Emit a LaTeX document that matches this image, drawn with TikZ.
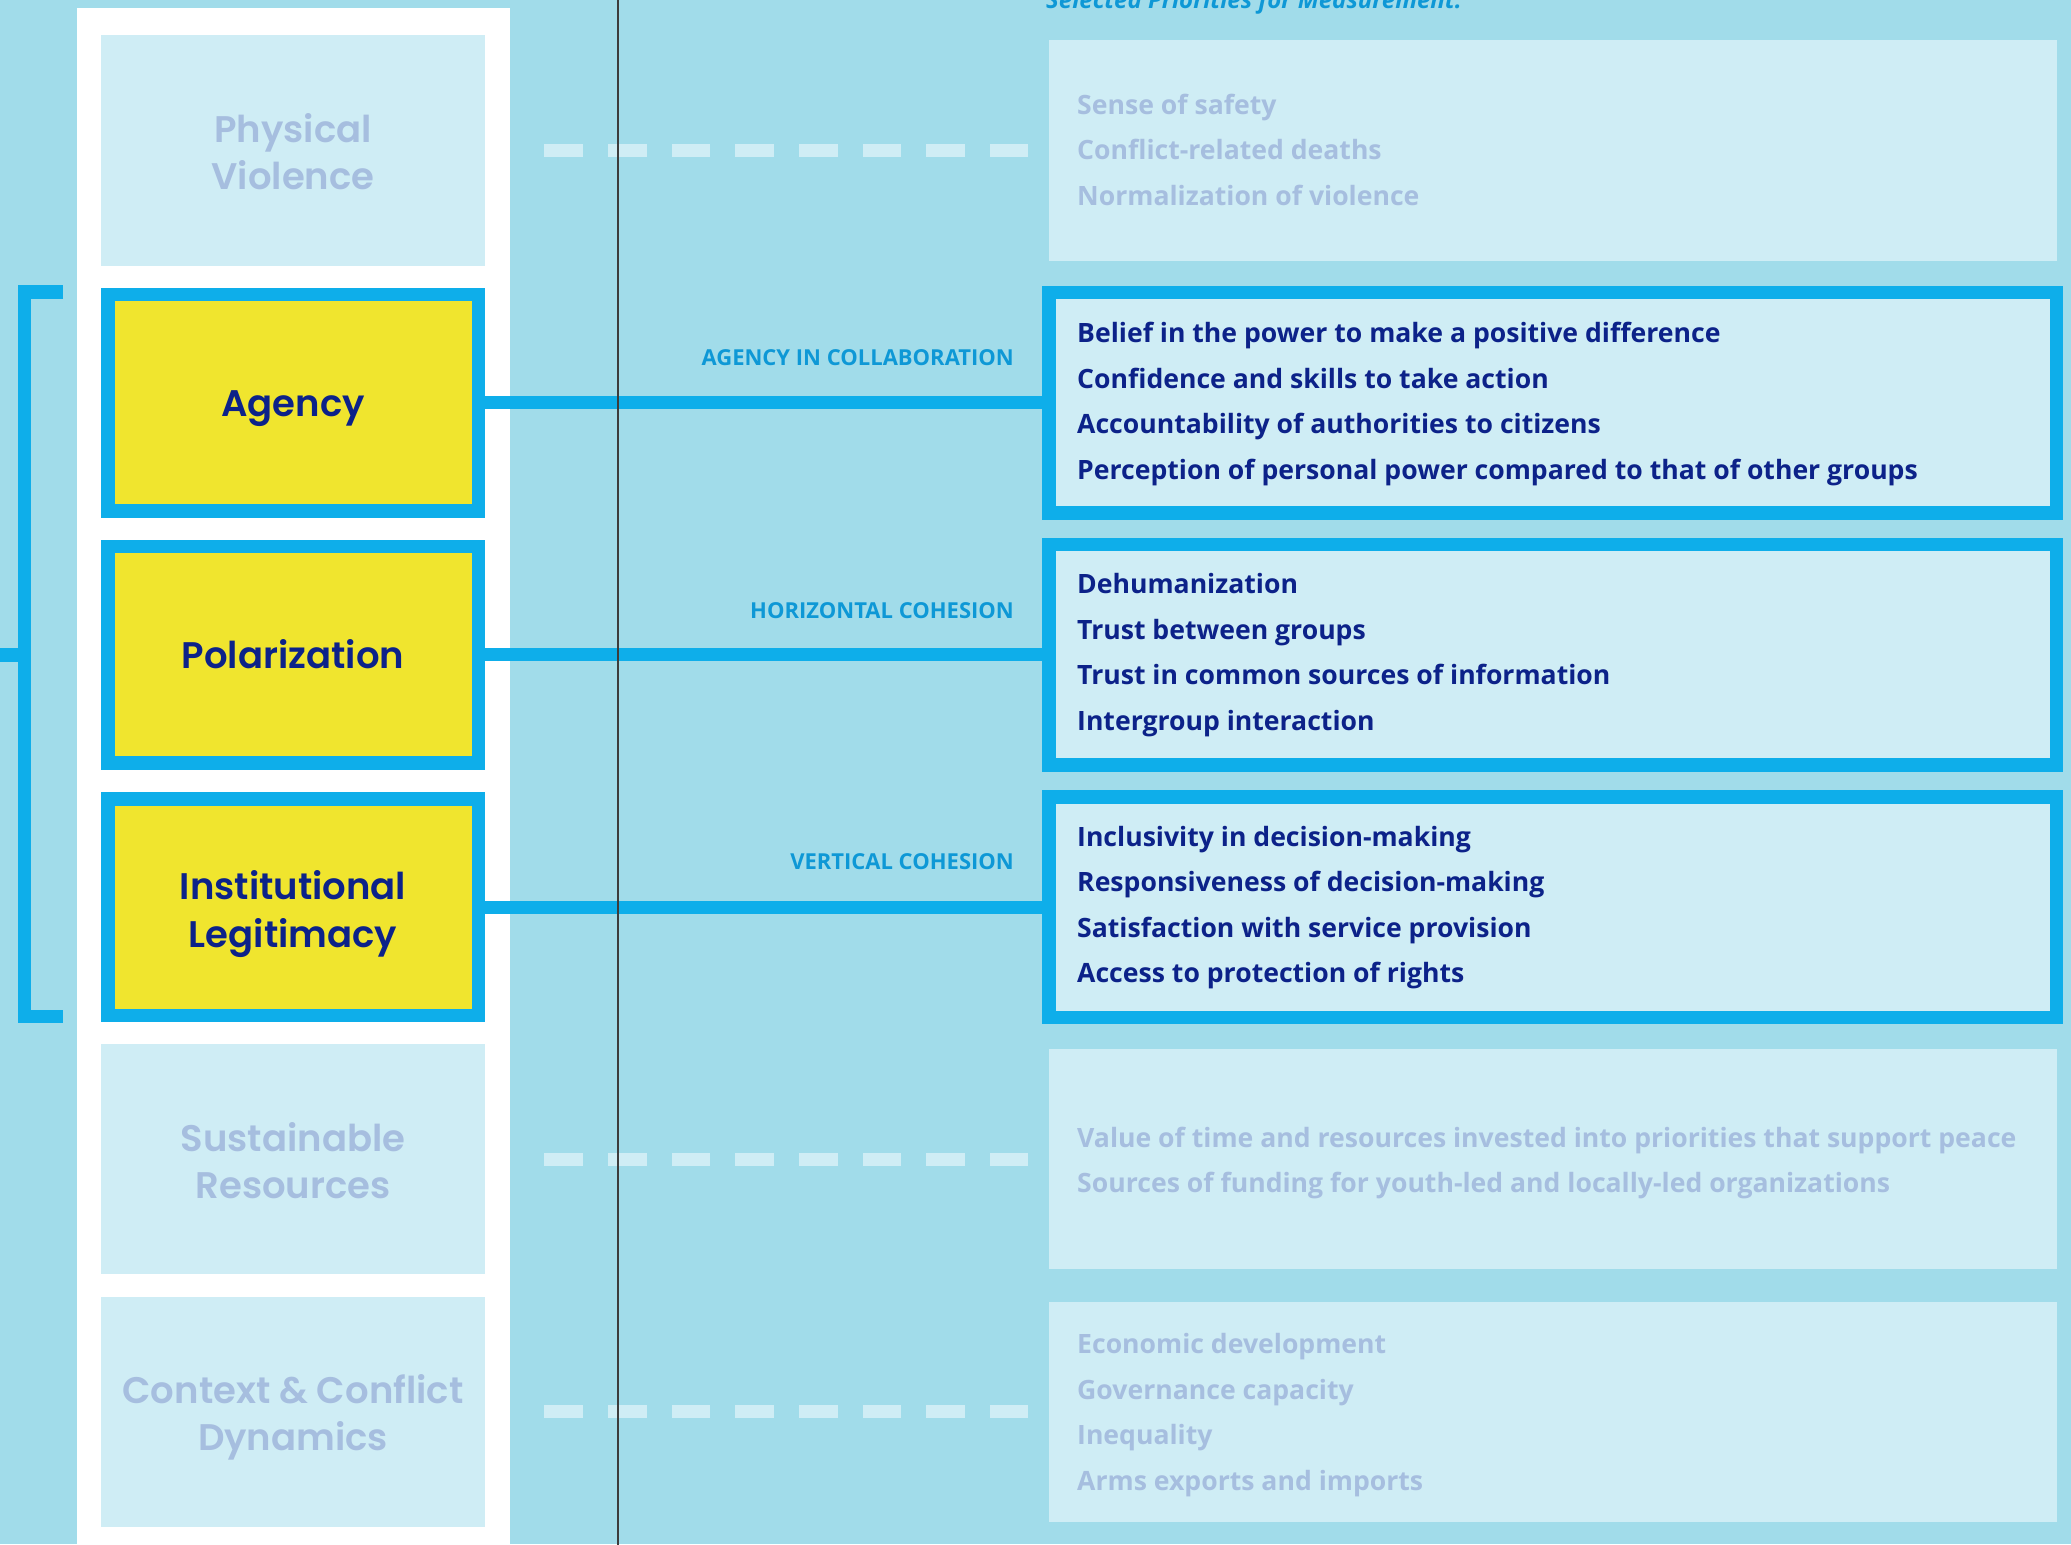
\documentclass[tikz,border=0pt]{standalone}
\usepackage{fontspec}
\setmainfont{Open Sans}
\newfontfamily\osans{Open Sans}
\IfFontExistsTF{Poppins SemiBold}{\newfontfamily\pop{Poppins SemiBold}}{\IfFontExistsTF{Poppins Medium}{\newfontfamily\pop{Poppins Medium}}{\newfontfamily\pop{Poppins}}}
\definecolor{bg}{HTML}{A1DCEA}
\definecolor{pale}{HTML}{CFEDF5}
\definecolor{bblue}{HTML}{0EAEEA}
\definecolor{yel}{HTML}{F0E52E}
\definecolor{navy}{HTML}{0C2289}
\definecolor{fadetxt}{HTML}{A6BEDF}
\definecolor{labblue}{HTML}{0E98D6}
\definecolor{vline}{HTML}{3C3C3C}
\begin{document}
\begin{tikzpicture}[x=1pt,y=-1pt,
  lfade/.style={fill=pale, minimum width=384pt, minimum height=230pt, inner sep=0pt},
  lhi/.style={fill=yel, draw=bblue, line width=13.5pt, minimum width=370.5pt, minimum height=216.5pt, inner sep=0pt},
  rfade/.style={fill=pale, minimum width=1008pt, minimum height=220pt, inner sep=0pt},
  rhi/.style={fill=pale, draw=bblue, line width=13.5pt, minimum width=1007.5pt, minimum height=220.5pt, inner sep=0pt},
  ltxt/.style={font=\pop\fontsize{37}{46}\selectfont, anchor=base, inner sep=0pt},
  ltxtfade/.style={ltxt, text=fadetxt},
  ltxthi/.style={ltxt, text=navy},
  rtxt/.style={font=\osans\bfseries\fontsize{26.6}{30}\selectfont, anchor=base west, inner sep=0pt},
  rtxtfade/.style={rtxt, text=fadetxt},
  rtxthi/.style={rtxt, text=navy},
  conn/.style={draw=bblue, line width=13pt},
  dconn/.style={draw=pale, line width=13pt, dash pattern=on 38.6pt off 25.1pt, shorten <=59pt, shorten >=21pt},
  lab/.style={font=\osans\bfseries\fontsize{22}{26}\selectfont, text=labblue, anchor=base east, inner sep=0pt},
  bracketline/.style={draw=bblue, line width=13.5pt, miter limit=10}
]
\useasboundingbox (0,0) rectangle (2071,1544);
\fill[bg] (0,0) rectangle (2071,1544);
\fill[white] (77,8) rectangle (510,1550);

% title
\node[font=\osans\bfseries\itshape\fontsize{24}{28}\selectfont, text=labblue, anchor=base west, inner sep=0pt] (title) at (1046,9) {Selected Priorities for Measurement:};

% bracket
\draw[bracketline] (63,292) -- (24.5,292) -- (24.5,1016.5) -- (63,1016.5);
\coordinate (brk) at (0,654.9);
\draw[bracketline] (brk) -- (24.5,654.9);

% ---- row 0: Physical Violence
\node[lfade] (pvL) at (293,150.5) {};
\node[rfade] (pvR) at (1553,150.5) {};
\node[ltxtfade] (pvT1) at (293,142.5) {Physical};
\node[ltxtfade] (pvT2) at (293,189.5) {Violence};
\foreach \t [count=\i] in {Sense of safety, Conflict-related deaths, Normalization of violence}
  \node[rtxtfade] (pvR\i) at (1077,{150.5-36+45.5*(\i-1)}) {\t};
\draw[dconn] (pvL.east) -- (pvR.west);

% ---- row 1: Agency
\node[lhi] (agL) at (293,402.7) {};
\node[rhi] (agR) at (1552.5,402.7) {};
\node[ltxthi] (agT) at (293,416.7) {Agency};
\foreach \t [count=\i] in {Belief in the power to make a positive difference, Confidence and skills to take action, Accountability of authorities to citizens, Perception of personal power compared to that of other groups}
  \node[rtxthi] (agR\i) at (1077,{402.7-60+45.5*(\i-1)}) {\t};
\draw[conn] (agL.east) -- (agR.west);
\node[lab] (agLab) at (1014,365.7) {AGENCY IN COLLABORATION};

% ---- row 2: Polarization
\node[lhi] (poL) at (293,654.9) {};
\node[rhi] (poR) at (1552.5,654.9) {};
\node[ltxthi] (poT) at (293,668.9) {Polarization};
\foreach \t [count=\i] in {Dehumanization, Trust between groups, Trust in common sources of information, Intergroup interaction}
  \node[rtxthi] (poR\i) at (1077,{654.9-61+45.5*(\i-1)}) {\t};
\draw[conn] (poL.east) -- (poR.west);
\node[lab] (poLab) at (1014,618.9) {HORIZONTAL COHESION};

% ---- row 3: Institutional Legitimacy
\node[lhi] (ilL) at (293,907.1) {};
\node[rhi] (ilR) at (1552.5,907.1) {};
\node[ltxthi] (ilT1) at (293,899.1) {Institutional};
\node[ltxthi] (ilT2) at (293,947.1) {Legitimacy};
\foreach \t [count=\i] in {Inclusivity in decision-making, Responsiveness of decision-making, Satisfaction with service provision, Access to protection of rights}
  \node[rtxthi] (ilR\i) at (1077,{907.1-61+45.5*(\i-1)}) {\t};
\draw[conn] (ilL.east) -- (ilR.west);
\node[lab] (ilLab) at (1014,869.1) {VERTICAL COHESION};

% ---- row 4: Sustainable Resources
\node[lfade] (srL) at (293,1159.3) {};
\node[rfade] (srR) at (1553,1159.3) {};
\node[ltxtfade] (srT1) at (293,1151.3) {Sustainable};
\node[ltxtfade] (srT2) at (293,1198.3) {Resources};
\foreach \t [count=\i] in {Value of time and resources invested into priorities that support peace, Sources of funding for youth-led and locally-led organizations}
  \node[rtxtfade] (srR\i) at (1077,{1159.3-12+45.5*(\i-1)}) {\t};
\draw[dconn] (srL.east) -- (srR.west);

% ---- row 5: Context & Conflict Dynamics
\node[lfade] (ccL) at (293,1411.5) {};
\node[rfade] (ccR) at (1553,1411.5) {};
\node[ltxtfade] (ccT1) at (293,1403.5) {Context \& Conflict};
\node[ltxtfade] (ccT2) at (293,1450.5) {Dynamics};
\foreach \t [count=\i] in {Economic development, Governance capacity, Inequality, Arms exports and imports}
  \node[rtxtfade] (ccR\i) at (1077,{1411.5-58+45.5*(\i-1)}) {\t};
\draw[dconn] (ccL.east) -- (ccR.west);

% thin vertical rule
\coordinate (vtop) at (618,-5);
\coordinate (vbot) at (618,1550);
\draw[vline, line width=1.3pt] (vtop) -- (vbot);
\end{tikzpicture}
\end{document}
